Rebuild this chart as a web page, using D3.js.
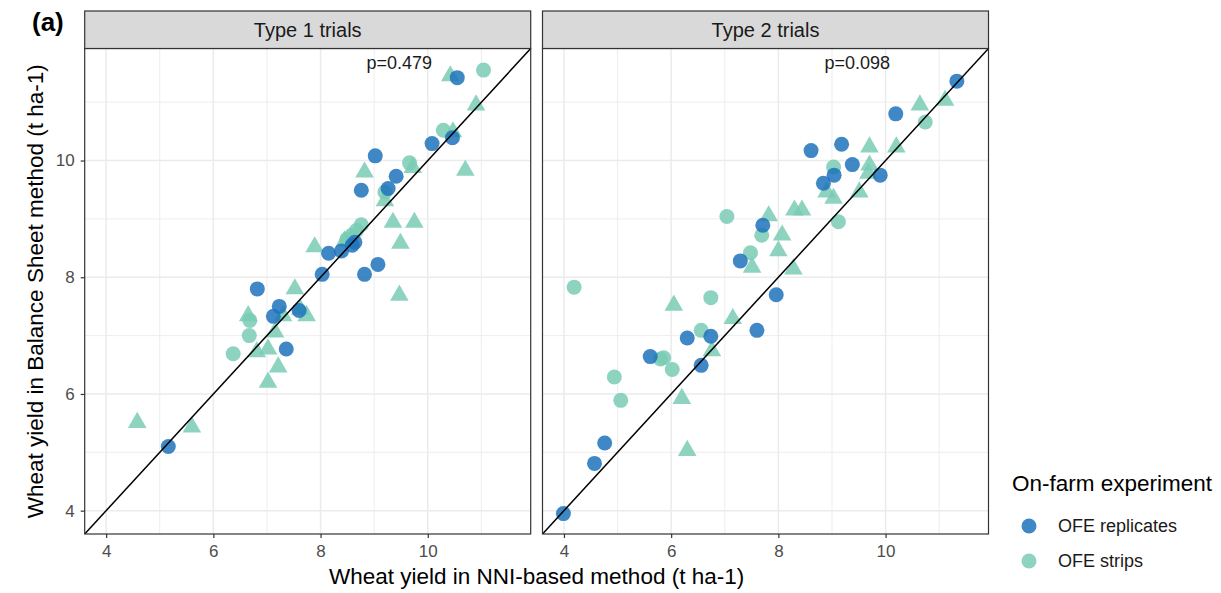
<!DOCTYPE html>
<html>
<head>
<meta charset="utf-8">
<script src="https://cdn.jsdelivr.net/npm/d3@7/dist/d3.min.js"></script>
<style>
  html, body { margin: 0; padding: 0; background: #fff; }
  svg { display: block; }
  text { font-family: "Liberation Sans", Arial, Helvetica, sans-serif; }
</style>
</head>
<body>
<svg id="chart" width="1221" height="593"></svg>
<script>
// ---------------- DATA ----------------
const panels = ["Type 1 trials", "Type 2 trials"];
const pValues = ["p=0.479", "p=0.098"];
const xTicks = [4, 6, 8, 10];
const yTicks = [4, 6, 8, 10];
const minorTicks = [5, 7, 9, 11];
const groups = ["OFE replicates", "OFE strips"];

// Type 1 trials: [NNI-based yield, Balance Sheet yield]
const type1Replicates = [
  [10.55, 11.42], [10.46, 10.39], [10.08, 10.29], [9.02, 10.08], [9.41, 9.73],
  [9.26, 9.52], [8.76, 9.49], [8.15, 8.41], [8.39, 8.45], [8.59, 8.55],
  [8.64, 8.60], [9.07, 8.22], [8.82, 8.05], [8.03, 8.05], [6.82, 7.80],
  [7.23, 7.50], [7.12, 7.33], [7.60, 7.43], [7.36, 6.77], [5.16, 5.10]
];
const type1StripsCircle = [
  [11.04, 11.55], [10.29, 10.52], [9.66, 9.96], [9.20, 9.46],
  [8.76, 8.90], [8.67, 8.80], [8.58, 8.72], [8.49, 8.65],
  [6.68, 7.26], [6.67, 7.00], [6.37, 6.69]
];
const type1StripsTriangle = [
  [10.42, 11.45], [10.90, 10.95], [10.47, 10.49], [9.72, 9.88], [10.70, 9.83],
  [8.82, 9.80], [9.20, 9.31], [9.35, 8.94], [9.75, 8.94], [9.49, 8.58],
  [7.89, 8.52], [8.45, 8.62], [9.47, 7.69], [7.52, 7.80], [7.74, 7.34],
  [7.30, 7.34], [6.65, 7.34], [7.15, 7.06], [7.02, 6.77], [6.81, 6.72],
  [7.21, 6.46], [7.02, 6.20], [4.58, 5.51], [5.60, 5.43], [7.62, 7.45]
];

// Type 2 trials
const type2Replicates = [
  [11.33, 11.36], [10.19, 10.80], [9.18, 10.28], [8.61, 10.17], [9.38, 9.93],
  [9.90, 9.75], [9.04, 9.75], [8.84, 9.61], [7.71, 8.89], [7.29, 8.28],
  [7.96, 7.70], [7.60, 7.09], [6.30, 6.96], [6.74, 6.99], [5.61, 6.64],
  [6.56, 6.49], [4.76, 5.16], [4.57, 4.81], [3.99, 3.95]
];
const type2StripsCircle = [
  [10.74, 10.66], [9.03, 9.89], [9.12, 8.95], [7.04, 9.04], [7.69, 8.72],
  [7.48, 8.42], [4.19, 7.83], [6.74, 7.65], [6.56, 7.09], [5.80, 6.60],
  [5.86, 6.62], [6.02, 6.42], [4.94, 6.29], [5.06, 5.89]
];
const type2StripsTriangle = [
  [11.11, 11.03], [10.64, 10.95], [10.20, 10.23], [9.70, 10.23], [9.70, 9.92],
  [9.68, 9.78], [9.51, 9.46], [8.90, 9.46], [9.03, 9.35], [8.44, 9.15],
  [8.30, 9.15], [7.82, 9.05], [8.07, 8.72], [8.00, 8.45], [7.51, 8.17],
  [8.28, 8.14], [6.05, 7.52], [7.15, 7.29], [6.76, 6.74], [6.20, 5.92],
  [6.30, 5.03]
];

const panelData = [
  { replicates: type1Replicates, stripsCircle: type1StripsCircle, stripsTriangle: type1StripsTriangle },
  { replicates: type2Replicates, stripsCircle: type2StripsCircle, stripsTriangle: type2StripsTriangle }
];

// ---------------- STYLE / LAYOUT ----------------
const colors = { "OFE replicates": "#1d73bb", "OFE strips": "#79cbb4" };
const pointOpacity = 0.85;
const domain = [3.6, 11.92];
const panelLeft = [84.7, 542.5];
const panelWidth = 446;
const panelTop = 48.5, panelBottom = 534;
const stripTop = 11;

const svg = d3.select("#chart");

panels.forEach((title, i) => {
  const x = d3.scaleLinear().domain(domain).range([panelLeft[i], panelLeft[i] + panelWidth]);
  const y = d3.scaleLinear().domain(domain).range([panelBottom, panelTop]);
  const g = svg.append("g");
  const clipId = "clip" + i;
  svg.append("clipPath").attr("id", clipId).append("rect")
    .attr("x", panelLeft[i]).attr("y", panelTop).attr("width", panelWidth).attr("height", panelBottom - panelTop);

  g.append("rect").attr("x", panelLeft[i]).attr("y", panelTop)
    .attr("width", panelWidth).attr("height", panelBottom - panelTop).attr("fill", "#fff");

  // gridlines
  const grid = g.append("g").attr("clip-path", `url(#${clipId})`);
  minorTicks.forEach(t => {
    grid.append("line").attr("x1", x(t)).attr("x2", x(t)).attr("y1", panelTop).attr("y2", panelBottom)
      .attr("stroke", "#ebebeb").attr("stroke-width", 0.9);
    grid.append("line").attr("y1", y(t)).attr("y2", y(t)).attr("x1", panelLeft[i]).attr("x2", panelLeft[i] + panelWidth)
      .attr("stroke", "#ebebeb").attr("stroke-width", 0.9);
  });
  xTicks.forEach(t => {
    grid.append("line").attr("x1", x(t)).attr("x2", x(t)).attr("y1", panelTop).attr("y2", panelBottom)
      .attr("stroke", "#ebebeb").attr("stroke-width", 1.5);
  });
  yTicks.forEach(t => {
    grid.append("line").attr("y1", y(t)).attr("y2", y(t)).attr("x1", panelLeft[i]).attr("x2", panelLeft[i] + panelWidth)
      .attr("stroke", "#ebebeb").attr("stroke-width", 1.5);
  });

  // points
  const pts = g.append("g").attr("clip-path", `url(#${clipId})`);
  const tri = d3.symbol().type(d3.symbolTriangle).size(150);
  const d = panelData[i];
  pts.selectAll(".st").data(d.stripsTriangle).join("path")
    .attr("d", tri).attr("transform", p => `translate(${x(p[0])},${y(p[1])})`)
    .attr("fill", colors["OFE strips"]).attr("fill-opacity", pointOpacity);
  pts.selectAll(".sc").data(d.stripsCircle).join("circle")
    .attr("cx", p => x(p[0])).attr("cy", p => y(p[1])).attr("r", 7.5)
    .attr("fill", colors["OFE strips"]).attr("fill-opacity", pointOpacity);
  pts.selectAll(".rc").data(d.replicates).join("circle")
    .attr("cx", p => x(p[0])).attr("cy", p => y(p[1])).attr("r", 7.5)
    .attr("fill", colors["OFE replicates"]).attr("fill-opacity", pointOpacity);

  // 1:1 line
  pts.append("line").attr("x1", x(domain[0])).attr("y1", y(domain[0]))
    .attr("x2", x(domain[1])).attr("y2", y(domain[1]))
    .attr("stroke", "#000").attr("stroke-width", 1.5);

  // p-value
  g.append("text").attr("x", x(9.47)).attr("y", y(11.68)).attr("dy", "0.35em")
    .attr("text-anchor", "middle").attr("font-size", 18).attr("fill", "#1a1a1a").text(pValues[i]);

  // panel border
  g.append("rect").attr("x", panelLeft[i]).attr("y", panelTop)
    .attr("width", panelWidth).attr("height", panelBottom - panelTop)
    .attr("fill", "none").attr("stroke", "#333").attr("stroke-width", 1.2);

  // strip
  g.append("rect").attr("x", panelLeft[i]).attr("y", stripTop)
    .attr("width", panelWidth).attr("height", panelTop - stripTop)
    .attr("fill", "#d9d9d9").attr("stroke", "#333").attr("stroke-width", 1.2);
  g.append("text").attr("x", panelLeft[i] + panelWidth / 2).attr("y", (stripTop + panelTop) / 2)
    .attr("dy", "0.36em").attr("text-anchor", "middle").attr("font-size", 20).attr("fill", "#1a1a1a").text(title);

  // x axis
  const xa = g.append("g").attr("transform", `translate(0,${panelBottom})`)
    .call(d3.axisBottom(x).tickValues(xTicks).tickSize(4).tickPadding(7).tickFormat(d3.format("d")));
  xa.select(".domain").remove();
  xa.selectAll("line").attr("stroke", "#333").attr("stroke-width", 1.2);
  xa.selectAll("text").attr("font-size", 17).attr("fill", "#4d4d4d")
    .style("font-family", '"Liberation Sans", Arial, sans-serif');

  if (i === 0) {
    const ya = g.append("g").attr("transform", `translate(${panelLeft[i]},0)`)
      .call(d3.axisLeft(y).tickValues(yTicks).tickSize(4).tickPadding(6).tickFormat(d3.format("d")));
    ya.select(".domain").remove();
    ya.selectAll("line").attr("stroke", "#333").attr("stroke-width", 1.2);
    ya.selectAll("text").attr("font-size", 17).attr("fill", "#4d4d4d")
      .style("font-family", '"Liberation Sans", Arial, sans-serif');
  }
});

// axis titles
svg.append("text").attr("x", (panelLeft[0] + panelLeft[1] + panelWidth) / 2).attr("y", 584)
  .attr("text-anchor", "middle").attr("font-size", 22.5).attr("fill", "#000")
  .text("Wheat yield in NNI-based method (t ha-1)");
svg.append("text").attr("transform", `translate(43,${(panelTop + panelBottom) / 2}) rotate(-90)`)
  .attr("text-anchor", "middle").attr("font-size", 22.5).attr("fill", "#000")
  .text("Wheat yield in Balance Sheet method (t ha-1)");

// tag
svg.append("text").attr("x", 32).attr("y", 31).attr("font-size", 26).attr("font-weight", "bold")
  .attr("fill", "#000").text("(a)");

// legend
const lg = svg.append("g");
lg.append("text").attr("x", 1012).attr("y", 491).attr("font-size", 22.5).attr("fill", "#000").text("On-farm experiment");
groups.forEach((gname, k) => {
  const cy = 526 + k * 35;
  lg.append("circle").attr("cx", 1029).attr("cy", cy).attr("r", 7.5)
    .attr("fill", colors[gname]).attr("fill-opacity", pointOpacity);
  lg.append("text").attr("x", 1058).attr("y", cy).attr("dy", "0.35em").attr("font-size", 18)
    .attr("fill", "#1a1a1a").text(gname);
});
</script>
</body>
</html>
